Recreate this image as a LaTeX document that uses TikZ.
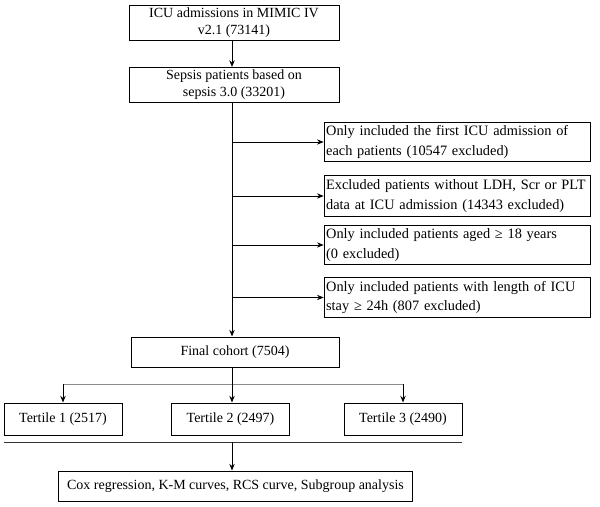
\documentclass[tikz,border=0pt]{standalone}
\usepackage{fontspec}
\setmainfont{Liberation Serif}
\usetikzlibrary{arrows.meta}

\begin{document}
\begin{tikzpicture}[
            x=0.75pt, y=-0.75pt,
            >={Stealth[length=5pt, width=4pt]},
            font=\fontsize{10.5}{12.75}\selectfont,
            block/.style={rectangle, draw, line width=0.75pt,
                align=center, inner sep=2pt,
                minimum height=22.5pt
            },
            exclbox/.style={block, align=left,
                font=\fontsize{10.75}{14.5}\selectfont,
                text width=197pt, inner xsep=1.5pt,
                minimum height=29pt
            },
            tertbox/.style={block, minimum width=88.5pt, minimum height=24pt},
            line/.style={draw, line width=0.75pt, ->},
            split/.style={draw, line width=0.75pt, black!45}
        ]
            \useasboundingbox (0,0) rectangle (600,507);
            \coordinate (trunk) at (232,0);

            % main column
            \node [block, minimum width=157.5pt, minimum height=25.5pt] (admissions) at (234,23) {ICU admissions in MIMIC IV\\v2.1 (73141)};
            \node [block, minimum width=157.5pt, minimum height=25.5pt] (sepsis) at (234,85) {Sepsis patients based on\\sepsis 3.0 (33201)};

            % exclusion boxes
            \node [exclbox] (first) at (457.5,142) {Only included the first ICU admission of\\each patients (10547 excluded)};
            \node [exclbox, minimum height=31pt] (missing) at (457.5,196) {Excluded patients without LDH, Scr or PLT\\data at ICU admission (14343 excluded)};
            \node [exclbox] (age) at (457.5,245) {Only included patients aged ≥ 18 years\\(0 excluded)};
            \node [exclbox, minimum height=30pt] (stay) at (457.5,297.5) {Only included patients with length of ICU\\stay ≥ 24h (807 excluded)};

            \node [block, minimum width=156pt] (cohort) at (235,352) {Final cohort (7504)};

            % tertiles
            \node [tertbox] (tertA) at (63,419) {Tertile 1 (2517)};
            \node [tertbox] (tertB) at (230.5,419) {Tertile 2 (2497)};
            \node [tertbox] (tertC) at (403,419) {Tertile 3 (2490)};

            \node [block, minimum width=266pt] (analysis) at (235.5,486) {Cox regression, K-M curves, RCS curve, Subgroup analysis};

            \coordinate (fork) at (232,384);
            \coordinate (sepL) at (4,442);
            \coordinate (sepR) at (462,442);

            % arrows
            \path [line] (trunk |- admissions.south) -- (trunk |- sepsis.north);
            \path [line] (trunk |- sepsis.south) -- (trunk |- cohort.north);
            \foreach \excl in {first, missing, age, stay}
                \path [line] (trunk |- \excl.west) -- (\excl.west);

            \path [split] (fork -| tertA.north) -- (fork -| tertC.north);
            \path [line] (tertA.north |- fork) -- (tertA.north);
            \path [line] (tertC.north |- fork) -- (tertC.north);
            \path [line] (trunk |- cohort.south) -- (trunk |- tertB.north);

            \draw [line width=0.75pt, black!80] (sepL) -- (sepR);
            \path [line] (trunk |- sepL) -- (trunk |- analysis.north);
        \end{tikzpicture}
\end{document}
